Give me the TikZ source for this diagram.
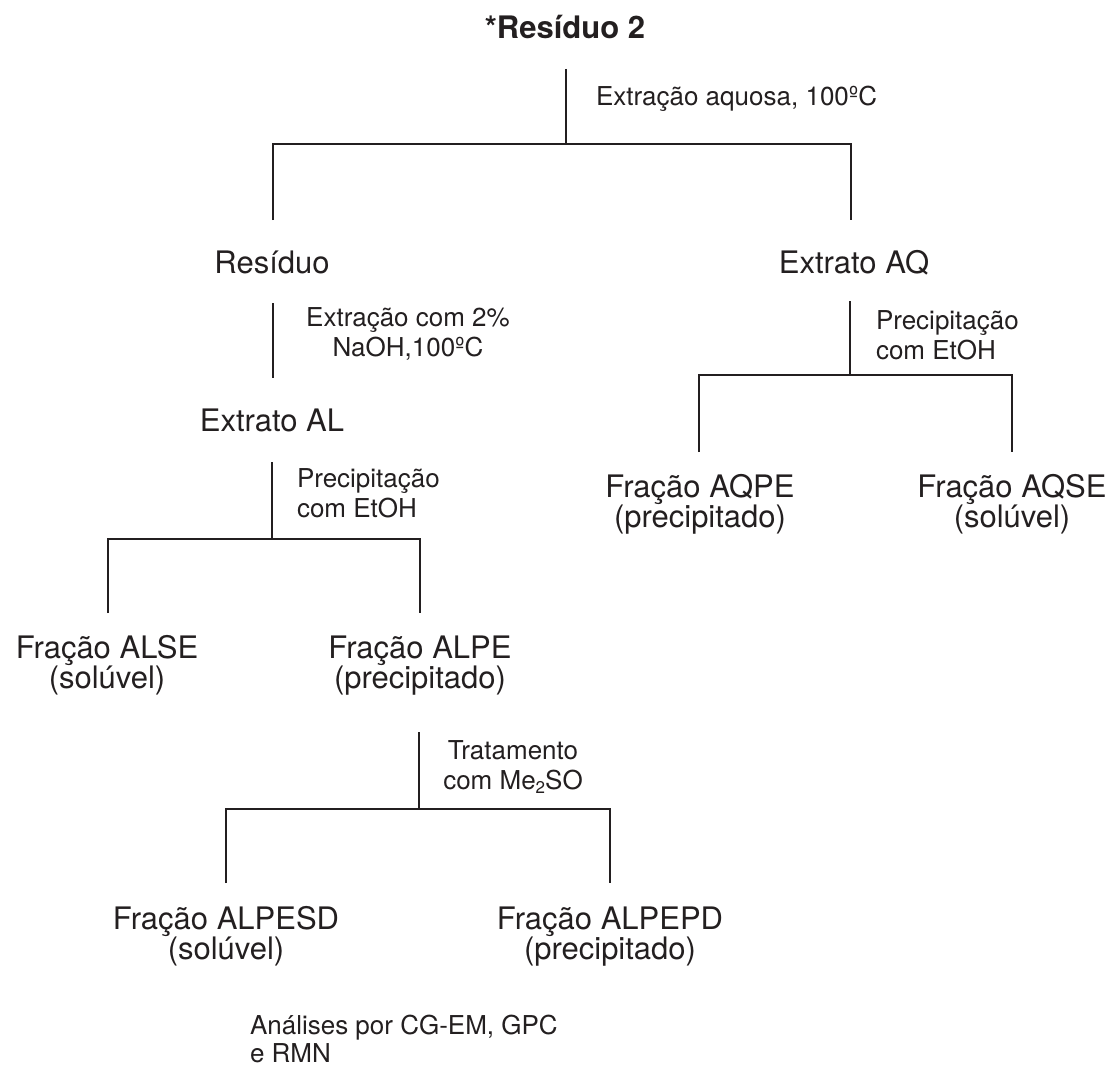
\documentclass[tikz,border=0pt]{standalone}
\usepackage{fontspec}
\setmainfont{TeX Gyre Heros}
\definecolor{ink}{RGB}{35,31,32}
\newcommand{\nodefont}{\fontsize{31}{29.5}\selectfont}
\newcommand{\labfont}{\fontsize{26}{30}\selectfont}
% multi-line blocks: baseline = first line, no extra depth after the last line
\newcommand{\ctext}[1]{\vtop{\halign{\hfil##\hfil\cr#1\crcr}}}
\newcommand{\ltext}[1]{\vtop{\halign{##\hfil\cr#1\crcr}}}
\begin{document}
\begin{tikzpicture}[x=1pt,y=-1pt,
  every node/.style={inner sep=0pt,outer sep=0pt,text=ink},
  stage/.style={font=\nodefont,anchor=base},
  cond/.style={font=\labfont,anchor=base},
  condl/.style={font=\labfont,anchor=base west},
  wire/.style={draw=ink,line width=2.1pt}]
\useasboundingbox (0,0) rectangle (1118,1070);

% nodes
\node[stage,font=\fontsize{31}{30}\selectfont\bfseries] (top) at (565,39) {*Resíduo 2};
\node[stage] (res) at (272,273) {Resíduo};
\node[stage] (aq) at (854,273) {Extrato AQ};
\node[stage] (al) at (272,431) {Extrato AL};
\node[stage] (aqpe) at (700,497) {\ctext{Fração AQPE\cr(precipitado)}};
\node[stage] (aqse) at (1012,497) {\ctext{Fração AQSE\cr(solúvel)}};
\node[stage] (alse) at (107,658) {\ctext{Fração ALSE\cr(solúvel)}};
\node[stage] (alpe) at (420,658) {\ctext{Fração ALPE\cr(precipitado)}};
\node[stage] (alpesd) at (226,929) {\ctext{Fração ALPESD\cr(solúvel)}};
\node[stage] (alpepd) at (610,929) {\ctext{Fração ALPEPD\cr(precipitado)}};
\node[condl,font=\fontsize{26}{28}\selectfont] (anal) at (250,1034) {\ltext{Análises por CG-EM, GPC\cr e RMN}};

% condition labels
\node[condl] (c1) at (596,106) {Extração aquosa, 100ºC};
\node[cond] (c2) at (408,326) {\ctext{Extração com 2\%\cr NaOH,100ºC}};
\node[condl] (c3) at (297,487) {\ltext{Precipitação\cr com EtOH}};
\node[condl] (c4) at (876,329) {\ltext{Precipitação\cr com EtOH}};
\node[cond] (c5) at (513,759) {\ctext{Tratamento\cr com Me\raisebox{-0.18em}{\fontsize{17}{17}\selectfont 2}SO}};

% junction coordinates
\coordinate (t0) at (566,69);
\coordinate (t1) at (566,144);
\coordinate (tl) at (273,144);
\coordinate (tr) at (851,144);
\coordinate (tlb) at (273,220);
\coordinate (trb) at (851,220);

\coordinate (r0) at (273,303);
\coordinate (r1) at (273,378);

\coordinate (l0) at (272,462);
\coordinate (l1) at (272,539);
\coordinate (ll) at (108,539);
\coordinate (lr) at (420,539);
\coordinate (llb) at (108,613);
\coordinate (lrb) at (420,613);

\coordinate (q0) at (850,301);
\coordinate (q1) at (850,375);
\coordinate (ql) at (699,375);
\coordinate (qr) at (1012,375);
\coordinate (qlb) at (699,452);
\coordinate (qrb) at (1012,452);

\coordinate (p0) at (419,732);
\coordinate (p1) at (419,809);
\coordinate (pl) at (226,809);
\coordinate (pr) at (610,809);
\coordinate (plb) at (226,883);
\coordinate (prb) at (610,883);

% connectors
\draw[wire] (t0) -- (t1);
\draw[wire] (tlb) -- (tl) -- (tr) -- (trb);
\draw[wire] (r0) -- (r1);
\draw[wire] (l0) -- (l1);
\draw[wire] (llb) -- (ll) -- (lr) -- (lrb);
\draw[wire] (q0) -- (q1);
\draw[wire] (qlb) -- (ql) -- (qr) -- (qrb);
\draw[wire] (p0) -- (p1);
\draw[wire] (plb) -- (pl) -- (pr) -- (prb);
\end{tikzpicture}
\end{document}
